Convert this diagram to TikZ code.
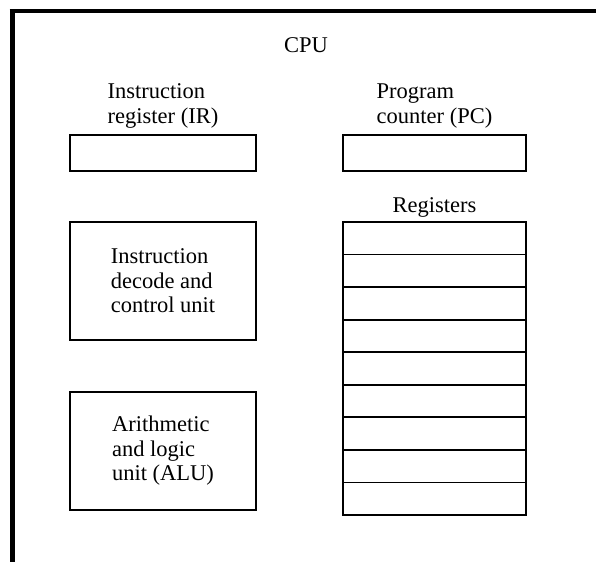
\documentclass[tikz,border=0pt]{standalone}
\usepackage{fontspec}
\setmainfont{Liberation Serif}
\begin{document}
\begin{tikzpicture}[x=1pt,y=-1pt,
  every node/.style={inner sep=0pt,outer sep=0pt},
  lbl/.style={font=\fontsize{22.5}{25}\selectfont,align=left},
  unitbox/.style={draw,line width=1.8pt,minimum width=186pt,font=\fontsize{22.5}{24.5}\selectfont,align=left},
  regcell/.style={draw,line width=1.8pt,minimum width=183pt,minimum height=32.56pt},
  frameline/.style={line width=#1,line cap=butt}]
\useasboundingbox (0,0) rectangle (596,562);
% outer frame (top and left edges visible)
\coordinate (ftl) at (12,11);
\coordinate (ftr) at (596,11);
\coordinate (fbl) at (12,562);
\draw[frameline=4pt] ([xshift=-2.5pt]ftl) -- (ftr);
\draw[frameline=5pt] ([yshift=-2pt]ftl) -- (fbl);
% title
\node[lbl,anchor=base] (cpu) at (306,52) {CPU};
% instruction register
\node[lbl,anchor=south] (irlbl) at (163,128) {Instruction\\register (IR)};
\node[unitbox,minimum height=36pt] (ir) at (163,153) {};
% program counter
\node[lbl,anchor=south] (pclbl) at (434.5,128) {Program\\counter (PC)};
\node[draw,line width=1.8pt,minimum width=183pt,minimum height=36pt] (pc) at (434.5,153) {};
% decode and control
\node[unitbox,minimum height=118pt] (dec) at (163,281) {Instruction\\decode and\\control unit};
% ALU
\node[unitbox,minimum height=118pt] (alu) at (163,451) {Arithmetic\\and logic\\unit (ALU)};
% registers
\node[lbl,anchor=base] (reglbl) at (434.5,212) {Registers};
\foreach \i in {1,...,9}{
  \node[regcell] (reg\i) at (434.5,{222+32.56*(\i-0.5)}) {};
}
\end{tikzpicture}
\end{document}
